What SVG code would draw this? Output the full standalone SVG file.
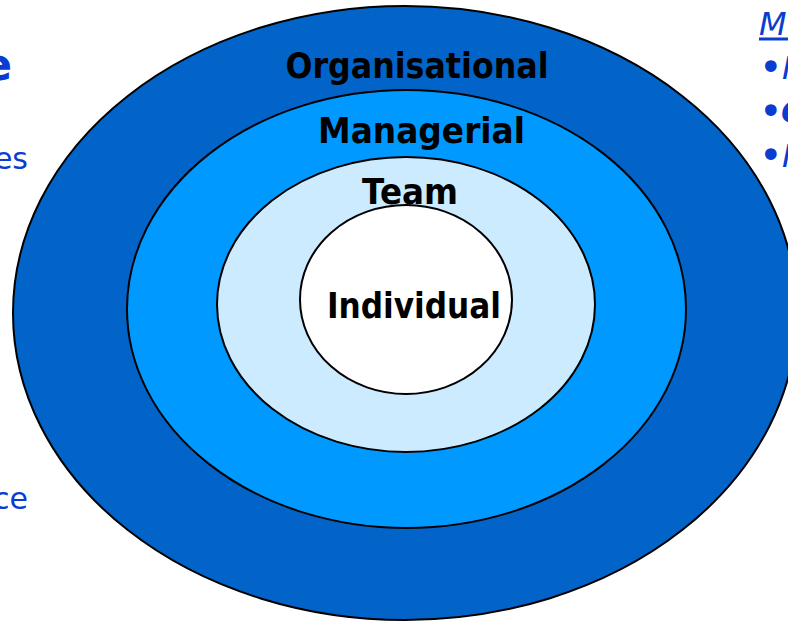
<svg xmlns="http://www.w3.org/2000/svg" width="788" height="621" viewBox="0 0 788 621">
  <style>
    .ring { stroke: #000; stroke-width: 2; }
    .label { font-family: "DejaVu Sans", "Liberation Sans", sans-serif; font-weight: bold; font-size: 36px; fill: #000; text-anchor: middle; }
    .side { font-family: "DejaVu Sans", "Liberation Sans", sans-serif; fill: #0A3CD2; }
  </style>
  <rect width="788" height="621" fill="#fff"/>

  <!-- side text, running off the edges -->
  <g id="left-notes" class="side">
    <text x="12" y="80" font-size="44" font-weight="bold" text-anchor="end">e</text>
    <text x="28" y="169" font-size="30" text-anchor="end">es</text>
    <text x="28" y="509" font-size="30" text-anchor="end">ce</text>
  </g>
  <g id="right-notes" class="side" font-size="32" font-style="italic">
    <text x="759" y="35">M</text>
    <rect x="759" y="37.5" width="32" height="3" fill="#0A3CD2"/>
    <text x="759" y="81" font-size="40" font-style="normal">•</text>
    <text x="782" y="79">I</text>
    <text x="759" y="125" font-size="40" font-style="normal">•</text>
    <text x="781" y="123" font-weight="bold">C</text>
    <text x="759" y="169" font-size="40" font-style="normal">•</text>
    <text x="782" y="167">I</text>
  </g>

  <!-- nested levels, outermost first -->
  <g id="organisational">
    <ellipse class="ring" cx="405" cy="313" rx="392" ry="307" fill="#0264C8"/>
    <text class="label" x="417" y="78" textLength="263" lengthAdjust="spacingAndGlyphs">Organisational</text>
  </g>
  <g id="managerial">
    <ellipse class="ring" cx="406.5" cy="309" rx="279.5" ry="219" fill="#0099FF"/>
    <text class="label" x="421.5" y="143" textLength="207" lengthAdjust="spacingAndGlyphs">Managerial</text>
  </g>
  <g id="team">
    <ellipse class="ring" cx="406" cy="304.5" rx="189" ry="147.5" fill="#CCEBFF"/>
    <text class="label" x="410" y="204" textLength="96" lengthAdjust="spacingAndGlyphs">Team</text>
  </g>
  <g id="individual">
    <ellipse class="ring" cx="406" cy="299.5" rx="106" ry="94.5" fill="#FFFFFF"/>
    <text class="label" x="414" y="318" textLength="174" lengthAdjust="spacingAndGlyphs">Individual</text>
  </g>
</svg>
